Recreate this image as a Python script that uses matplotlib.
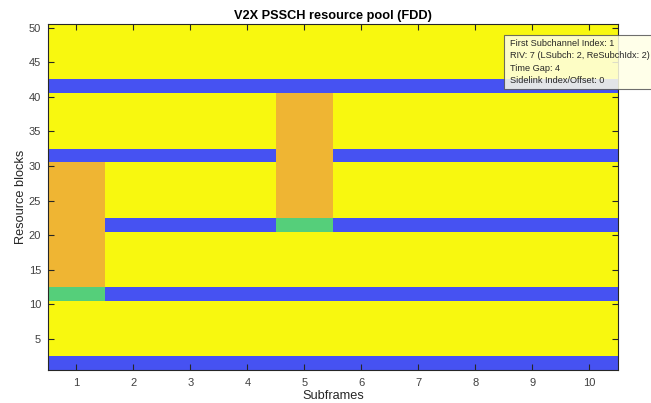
"""
V2X PSSCH resource pool grid (FDD), subframes x resource blocks.
"""
import matplotlib
matplotlib.use("Agg")
import matplotlib.pyplot as plt
import numpy as np
from matplotlib.colors import ListedColormap
from matplotlib.patches import Rectangle

plt.rcParams.update({"font.family": ["Liberation Sans", "DejaVu Sans"],
                     "font.size": 8})

# pool layout
n_subframes = 10
n_rbs = 50
subchannel_starts = [1, 11, 21, 31, 41]   # first RB of each subchannel
pscch_len = 2                             # PSCCH RBs at the start of each subchannel

# transmissions: subframe, first RB, PSCCH length, PSSCH length
tx_subframe = [1, 5]
tx_first_rb = [11, 21]
tx_pscch_len = [2, 2]
tx_pssch_len = [18, 18]

tip_lines = ["First Subchannel Index: 1",
             "RIV: 7 (LSubch: 2, ReSubchIdx: 2)",
             "Time Gap: 4",
             "Sidelink Index/Offset: 0"]

# 0 = pool PSCCH, 1 = used PSCCH, 2 = used PSSCH, 3 = free
cmap = ListedColormap(["#4652F2", "#55CF7A", "#EFB533", "#F8F80F"])

grid = np.full((n_rbs, n_subframes), 3)
for s in subchannel_starts:
    grid[s - 1:s - 1 + pscch_len, :] = 0
for sf, rb, lc, ld in zip(tx_subframe, tx_first_rb, tx_pscch_len, tx_pssch_len):
    grid[rb - 1:rb - 1 + lc, sf - 1] = 1
    grid[rb - 1 + lc:rb - 1 + lc + ld, sf - 1] = 2

fig = plt.figure(figsize=(6.51, 4.03), dpi=100)
ax = fig.add_axes([0.0737, 0.082, 0.875, 0.858])
ax.imshow(grid, cmap=cmap, vmin=-0.5, vmax=3.5, origin="lower", aspect="auto",
          interpolation="nearest",
          extent=[0.5, n_subframes + 0.5, 0.5, n_rbs + 0.5])

ax.set_xticks(np.arange(1, n_subframes + 1))
ax.set_yticks(np.arange(5, n_rbs + 1, 5))
ax.tick_params(direction="in", top=True, right=True, length=4, width=0.8,
               colors="#262626", labelcolor="#404040", labelsize=8)
ax.tick_params(axis="x", pad=5.5)
ax.tick_params(axis="y", pad=5)
for sp in ax.spines.values():
    sp.set_linewidth(0.8)
    sp.set_color("#262626")
ax.set_xlabel("Subframes", color="#262626", fontsize=9.2, labelpad=1.5)
ax.set_ylabel("Resource blocks", color="#262626", fontsize=9.2, labelpad=1)
ax.set_title("V2X PSSCH resource pool (FDD)", fontweight="bold", fontsize=9.2,
             pad=4)

# data tip box at the upper right
W, H = 651, 403
fig.patches.append(Rectangle((503.5 / W, 1 - 89 / H), 200 / W, 54 / H,
                             transform=fig.transFigure, facecolor="#FFFFE6",
                             edgecolor="#555555", alpha=0.85, lw=0.8))
for i, y in enumerate([43.5, 56, 68.5, 80.5]):
    fig.text(510 / W, 1 - y / H, tip_lines[i], fontsize=6.6,
             color="#262626", va="center", ha="left")

fig.savefig("out.png", dpi=100)
